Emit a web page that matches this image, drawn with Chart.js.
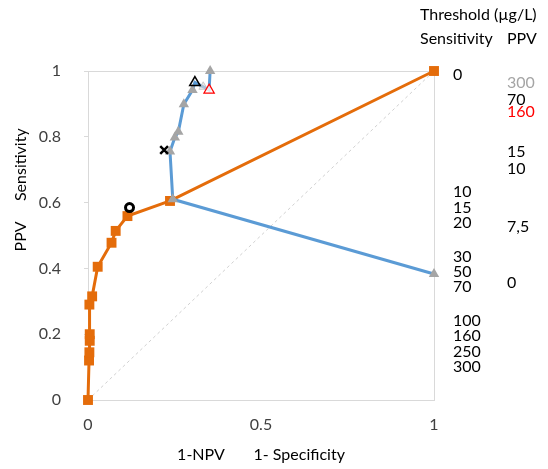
<!DOCTYPE html>
<html>
<head>
<meta charset="utf-8">
<script src="https://cdn.jsdelivr.net/npm/chart.js@4/dist/chart.umd.min.js"></script>
<style>
body{margin:0;background:#fff;}
</style>
</head>
<body>
<canvas id="rocChart" width="548" height="469"></canvas>
<script>

// sensitivity curve (1-specificity, sensitivity)
var sensX = [0, 0.003, 0.004, 0.005, 0.005, 0.004, 0.012, 0.028, 0.068, 0.08, 0.114, 0.237, 1];
var sensY = [0, 0.12, 0.145, 0.18, 0.2, 0.29, 0.315, 0.405, 0.478, 0.514, 0.559, 0.605, 1];

// PPV curve (1-NPV, PPV)
var ppvX = [1, 0.245, 0.237, 0.251, 0.261, 0.277, 0.302, 0.309, 0.333, 0.35, 0.353];
var ppvY = [0.383, 0.61, 0.755, 0.798, 0.815, 0.899, 0.942, 0.965, 0.952, 0.942, 1.0];
var grayIdx = [0, 1, 2, 3, 4, 5, 6, 10];

// single highlighted points
var blackTri = [0.309, 0.965];
var redTri = [0.35, 0.942];
var ghostPt = [0.333, 0.952];
var crossPt = [0.22, 0.76];
var ringPt = [0.12, 0.585];

var diagX = [0, 1];
var diagY = [0, 1];

// threshold labels on the right
var sensThresholds = ['0', '10', '15', '20', '30', '50', '70', '100', '160', '250', '300'];
var sensThresholdY = [0.988, 0.633, 0.584, 0.538, 0.436, 0.39, 0.344, 0.241, 0.195, 0.147, 0.101];
var ppvThresholds = ['300', '70', '160', '15', '10', '7,5', '0'];
var ppvThresholdY = [0.964, 0.912, 0.876, 0.755, 0.704, 0.527, 0.355];
var ppvThresholdColor = ['#a5a5a5', '#000', '#ff0000', '#000', '#000', '#000', '#000'];

var xTicks = [0, 0.5, 1];
var yTicks = [0, 0.2, 0.4, 0.6, 0.8, 1];

function pts(xs, ys) {
	var out = [];
	for (var i = 0; i < xs.length; i++) {
		out.push({x: xs[i], y: ys[i]});
	}
	return out;
}

var FONT = 'Lato';
var FSIZE = 16;
var gridCol = '#d9d9d9';

var labelsPlugin = {
	id: 'thresholdLabels',
	afterDraw: function (chart) {
		var ctx = chart.ctx;
		var yScale = chart.scales.y;
		var right = chart.chartArea.right;
		ctx.save();
		ctx.font = FSIZE + 'px ' + FONT;
		ctx.textBaseline = 'middle';
		ctx.textAlign = 'left';
		ctx.fillStyle = '#000';
		ctx.fillText('Threshold (\u00b5g/L)', right - 14, 15);
		ctx.fillText('Sensitivity', right - 14, 39);
		ctx.fillText('PPV', right + 73, 39);
		for (var i = 0; i < sensThresholds.length; i++) {
			ctx.fillText(sensThresholds[i], right + 19, yScale.getPixelForValue(sensThresholdY[i]));
		}
		for (var j = 0; j < ppvThresholds.length; j++) {
			ctx.fillStyle = ppvThresholdColor[j];
			ctx.fillText(ppvThresholds[j], right + 73, yScale.getPixelForValue(ppvThresholdY[j]));
		}
		ctx.restore();
	}
};

var grayPts = grayIdx.map(function (i) { return {x: ppvX[i], y: ppvY[i]}; });

function tickText(v) {
	return String(Math.round(v * 10) / 10);
}

function onlyTop(c) {
	return c.tick && c.tick.value === 1 ? gridCol : 'rgba(0,0,0,0)';
}

var chart = new Chart(document.getElementById('rocChart'), {
	type: 'scatter',
	data: {
		datasets: [
			{
				data: [{x: ringPt[0], y: ringPt[1]}],
				pointStyle: 'circle', pointRadius: 4, pointBorderWidth: 3,
				pointBorderColor: '#000', pointBackgroundColor: '#fff'
			},
			{
				data: [{x: crossPt[0], y: crossPt[1]}],
				pointStyle: 'crossRot', pointRadius: 5.5, pointBorderWidth: 2.5,
				pointBorderColor: '#000'
			},
			{
				data: [{x: blackTri[0], y: blackTri[1]}],
				pointStyle: 'triangle', pointRadius: 6, pointBorderWidth: 1.5,
				pointBorderColor: '#000', pointBackgroundColor: 'rgba(0,0,0,0)'
			},
			{
				data: [{x: redTri[0], y: redTri[1]}],
				pointStyle: 'triangle', pointRadius: 6, pointBorderWidth: 1.2,
				pointBorderColor: '#ff0000', pointBackgroundColor: 'rgba(255,255,255,0.8)'
			},
			{
				data: [{x: ghostPt[0], y: ghostPt[1]}],
				pointStyle: 'triangle', pointRadius: 5, pointBorderWidth: 1,
				pointBorderColor: 'rgba(190,190,190,0.8)', pointBackgroundColor: 'rgba(220,220,220,0.6)'
			},
			{
				data: grayPts,
				pointStyle: 'triangle', pointRadius: 6, pointBorderWidth: 0,
				pointBackgroundColor: '#a5a5a5'
			},
			{
				data: pts(ppvX, ppvY),
				showLine: true, pointRadius: 0,
				borderColor: '#5b9bd5', borderWidth: 3
			},
			{
				data: pts(sensX, sensY),
				showLine: true, pointStyle: 'rect', pointRadius: 7, pointBorderWidth: 0,
				borderColor: '#e46c0a', borderWidth: 3,
				pointBackgroundColor: '#e46c0a'
			},
			{
				data: pts(diagX, diagY),
				showLine: true, pointRadius: 0,
				borderColor: '#d0d0d0', borderWidth: 1, borderDash: [3, 3]
			}
		]
	},
	options: {
		responsive: false,
		animation: false,
		devicePixelRatio: 1,
		clip: false,
		layout: {padding: {left: 11, right: 114, top: 71, bottom: 0}},
		plugins: {legend: {display: false}, tooltip: {enabled: false}},
		elements: {line: {tension: 0}},
		scales: {
			x: {
				type: 'linear', min: 0, max: 1,
				afterBuildTicks: function (s) { s.ticks = xTicks.map(function (v) { return {value: v}; }); },
				afterFit: function (s) { s.height = 69; },
				ticks: {padding: 15, color: '#404040', font: {family: FONT, size: FSIZE}, callback: tickText},
				grid: {drawTicks: false, color: onlyTop},
				border: {color: gridCol},
				title: {display: true, text: '1-NPV       1- Specificity', color: '#000',
					font: {family: FONT, size: FSIZE}, padding: {top: 0, bottom: 5}}
			},
			y: {
				type: 'linear', min: 0, max: 1,
				afterBuildTicks: function (s) { s.ticks = yTicks.map(function (v) { return {value: v}; }); },
				afterFit: function (s) { s.width = 77; },
				ticks: {padding: 23, color: '#404040', font: {family: FONT, size: FSIZE}, callback: tickText},
				grid: {tickLength: 4, tickColor: gridCol, color: onlyTop},
				border: {color: gridCol},
				title: {display: true, text: 'PPV     Sensitivity              ', align: 'end', color: '#000',
					font: {family: FONT, size: FSIZE}, padding: {top: 0, bottom: 12}}
			}
		}
	},
	plugins: [labelsPlugin]
});
</script>
</body>
</html>
